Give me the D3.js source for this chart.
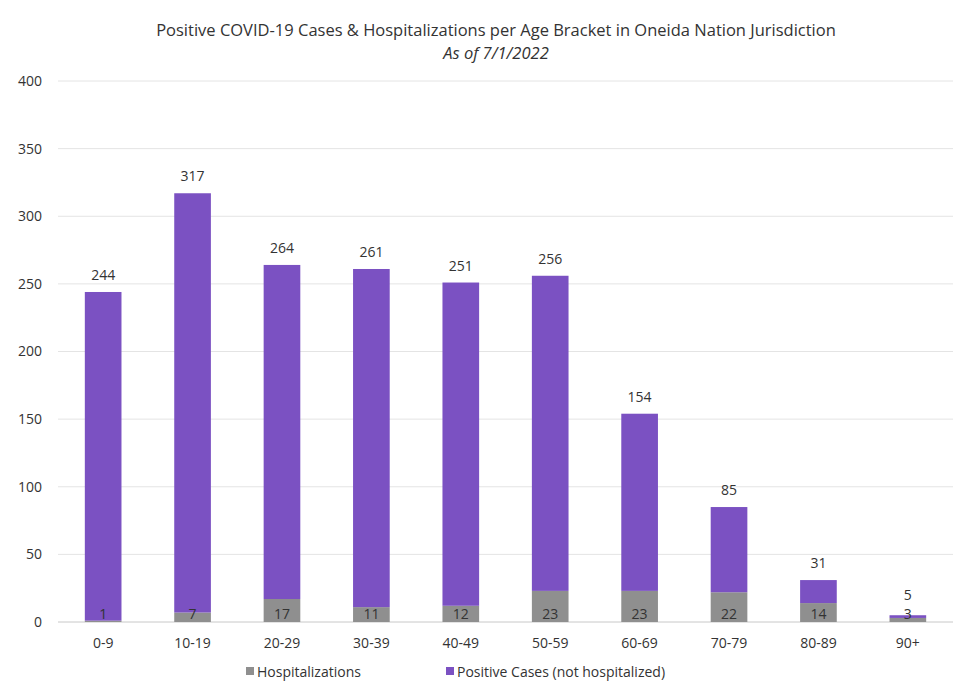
<!DOCTYPE html>
<html>
<head>
<meta charset="utf-8">
<script src="https://cdn.jsdelivr.net/npm/d3@7"></script>
<style>
  body { margin: 0; background: #fff; }
  svg text { font-family: "Open Sans", "Noto Sans", sans-serif; fill: #333; }
</style>
</head>
<body>
<div id="chart"></div>
<script>
// --- data ---
const ageBrackets = ["0-9", "10-19", "20-29", "30-39", "40-49", "50-59", "60-69", "70-79", "80-89", "90+"];
const totalCases = [244, 317, 264, 261, 251, 256, 154, 85, 31, 5];
const hospitalizations = [1, 7, 17, 11, 12, 23, 23, 22, 14, 3];
const yTicks = [0, 50, 100, 150, 200, 250, 300, 350, 400];

// --- sizing ---
const W = 961, H = 700;
const margin = { top: 81, right: 8, bottom: 78, left: 58 },
      width  = W - margin.left - margin.right,
      height = H - margin.top  - margin.bottom;

const svgRoot = d3.select("#chart").append("svg")
  .attr("width", W).attr("height", H);

const svg = svgRoot.append("g")
  .attr("transform", `translate(${margin.left},${margin.top})`);

// title
svgRoot.append("text")
  .attr("x", 496).attr("y", 36)
  .attr("text-anchor", "middle")
  .style("font-size", "16.5px")
  .text("Positive COVID-19 Cases & Hospitalizations per Age Bracket in Oneida Nation Jurisdiction");
svgRoot.append("text")
  .attr("x", 496).attr("y", 59)
  .attr("text-anchor", "middle")
  .style("font-size", "16.5px")
  .style("font-style", "italic")
  .text("As of 7/1/2022");

// scales
const x = d3.scaleBand().domain(ageBrackets).range([0, width]).paddingInner(0.59).paddingOuter(0.3);
const y = d3.scaleLinear().domain([0, 400]).range([height, 0]);

// grid
svg.append("g")
  .selectAll("line")
  .data(yTicks)
  .join("line")
  .attr("x1", 0).attr("x2", width)
  .attr("y1", d => y(d)).attr("y2", d => y(d))
  .attr("stroke", d => d === 0 ? "#c8c8c8" : "#e4e4e4")
  .attr("stroke-width", 1);

// y axis labels
const yAxis = svg.append("g")
  .attr("transform", "translate(-13,0)")
  .call(d3.axisLeft(y).tickValues(yTicks).tickSize(0));
yAxis.select(".domain").remove();
yAxis.selectAll("text").style("font-size", "14px").attr("fill", "#444");

// x axis labels
const xAxis = svg.append("g")
  .attr("transform", `translate(0,${height + 13})`)
  .call(d3.axisBottom(x).tickSize(0));
xAxis.select(".domain").remove();
xAxis.selectAll("text").style("font-size", "14px").attr("fill", "#444");

const rows = ageBrackets.map((a, i) => ({ age: a, hosp: hospitalizations[i], total: totalCases[i] }));

// stacked bars: hospitalizations at base, remaining positive cases on top
svg.selectAll(".hosp")
  .data(rows)
  .join("rect")
  .attr("class", "hosp")
  .attr("x", d => x(d.age))
  .attr("width", x.bandwidth())
  .attr("y", d => y(d.hosp))
  .attr("height", d => y(0) - y(d.hosp))
  .attr("fill", "#8f8f8f");

svg.selectAll(".pos")
  .data(rows)
  .join("rect")
  .attr("class", "pos")
  .attr("x", d => x(d.age))
  .attr("width", x.bandwidth())
  .attr("y", d => y(d.total))
  .attr("height", d => y(d.hosp) - y(d.total))
  .attr("fill", "#7b51c2");

// total labels (kept clear of the base label on tiny bars)
svg.selectAll(".total-label")
  .data(rows)
  .join("text")
  .attr("class", "total-label")
  .attr("x", d => x(d.age) + x.bandwidth() / 2)
  .attr("y", d => Math.min(y(d.total) - 12, height - 22))
  .attr("text-anchor", "middle")
  .style("font-size", "14px")
  .attr("fill", "#222")
  .text(d => d.total);

// hospitalization labels, inside base
svg.selectAll(".hosp-label")
  .data(rows)
  .join("text")
  .attr("class", "hosp-label")
  .attr("x", d => x(d.age) + x.bandwidth() / 2)
  .attr("y", height - 3)
  .attr("text-anchor", "middle")
  .style("font-size", "14px")
  .attr("fill", d => d.hosp < 10 ? "#3a1f5a" : "#222")
  .text(d => d.hosp);

// legend
const legendItems = [
  { label: "Hospitalizations", color: "#8f8f8f", x: 246 },
  { label: "Positive Cases (not hospitalized)", color: "#7b51c2", x: 446 }
];
const legend = svgRoot.append("g");
legend.selectAll("rect")
  .data(legendItems)
  .join("rect")
  .attr("x", d => d.x).attr("y", 667)
  .attr("width", 8).attr("height", 8)
  .attr("fill", d => d.color);
legend.selectAll("text")
  .data(legendItems)
  .join("text")
  .attr("x", d => d.x + 11).attr("y", 677)
  .style("font-size", "14px")
  .attr("fill", "#444")
  .text(d => d.label);
</script>
</body>
</html>
